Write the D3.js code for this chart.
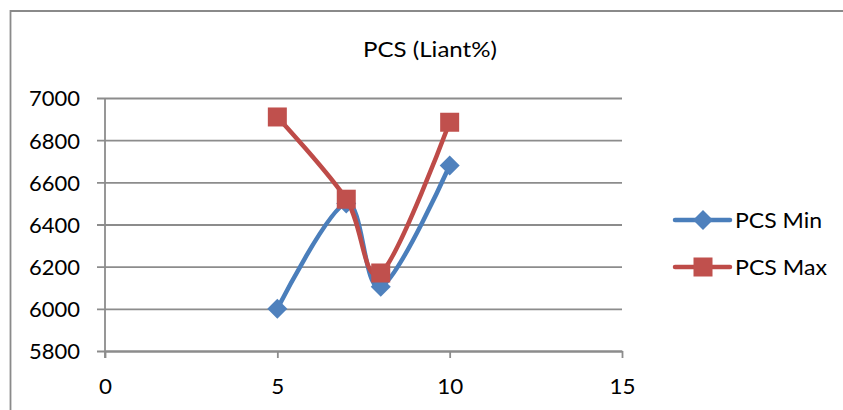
<!DOCTYPE html>
<html>
<head>
<meta charset="utf-8">
<script src="https://cdn.jsdelivr.net/npm/d3@7"></script>
<style>
  html, body { margin: 0; padding: 0; background: #fff; }
  svg { display: block; }
  text { font-family: Lato, "Open Sans", sans-serif; fill: #000; }
</style>
</head>
<body>
<script>
// Measured loads
const xValues = [5, 7, 8, 10];
const pcsMin = [6000, 6500, 6105, 6680];
const pcsMax = [6910, 6520, 6170, 6885];
const seriesNames = ["PCS Min", "PCS Max"];
const xTicks = [0, 5, 10, 15];
const yTicks = [5800, 6000, 6200, 6400, 6600, 6800, 7000];
const titleText = "PCS (Liant%)";

const W = 843, H = 410;
const svg = d3.select("body").append("svg").attr("width", W).attr("height", H);

// chart frame (top and left edges visible)
svg.append("path")
  .attr("d", "M10.5,420 L10.5,11 L850,11")
  .attr("fill", "none").attr("stroke", "#8a8a8a").attr("stroke-width", 1.8);

const x = d3.scaleLinear().domain([0, 15]).range([105, 622]);
const y = d3.scaleLinear().domain([5800, 7000]).range([351, 98]);
const gridColor = "#8c8c8c";
const fontSize = 22;

function fitText(sel, len) {
  sel.attr("textLength", len).attr("lengthAdjust", "spacingAndGlyphs");
}

// title
svg.append("text").attr("x", 430).attr("y", 57).attr("text-anchor", "middle")
  .attr("font-size", fontSize).text(titleText).call(fitText, 134);

// y axis with gridlines
const yAxis = svg.append("g").attr("transform", `translate(${x(0)},0)`)
  .call(d3.axisLeft(y).tickValues(yTicks).tickFormat(d3.format("d"))
    .tickSizeInner(-(x(15) - x(0))).tickSizeOuter(0).tickPadding(25));
yAxis.select(".domain").remove();
yAxis.selectAll(".tick line").attr("x1", -8).attr("stroke", gridColor).attr("stroke-width", 1.8);
yAxis.selectAll(".tick text").attr("font-size", fontSize).attr("font-family", null)
  .attr("dy", "0.36em").call(fitText, 51);
svg.append("line")
  .attr("x1", x(0)).attr("x2", x(0)).attr("y1", y(7000)).attr("y2", y(5800) + 7)
  .attr("stroke", gridColor).attr("stroke-width", 1.8);

// x axis
const xAxis = svg.append("g").attr("transform", `translate(0,${y(5800)})`)
  .call(d3.axisBottom(x).tickValues(xTicks).tickSizeInner(7).tickSizeOuter(0).tickPadding(20));
xAxis.select(".domain").attr("stroke", gridColor).attr("stroke-width", 1.8);
xAxis.selectAll(".tick line").attr("stroke", gridColor).attr("stroke-width", 1.8);
xAxis.selectAll(".tick text").attr("font-size", fontSize).attr("font-family", null)
  .each(function(d) { d3.select(this).call(fitText, String(d).length * 13); });

const series = [
  { name: seriesNames[0], values: pcsMin, line: "#4a7ebb", fill: "#4f81bd", shape: "diamond" },
  { name: seriesNames[1], values: pcsMax, line: "#be4b48", fill: "#c0504d", shape: "square" }
];

const lineGen = d3.line().x(d => x(d[0])).y(d => y(d[1])).curve(d3.curveCardinal.tension(0));

function marker(g, shape, cx, cy, color) {
  if (shape === "diamond") {
    const r = 10;
    g.append("path").attr("d", `M${cx},${cy - r}L${cx + r},${cy}L${cx},${cy + r}L${cx - r},${cy}Z`)
      .attr("fill", color);
  } else {
    const s = 19;
    g.append("rect").attr("x", cx - s / 2).attr("y", cy - s / 2).attr("width", s).attr("height", s)
      .attr("fill", color);
  }
}

series.forEach(s => {
  const pts = xValues.map((xv, i) => [xv, s.values[i]]);
  svg.append("path").attr("d", lineGen(pts)).attr("fill", "none")
    .attr("stroke", s.line).attr("stroke-width", 4.5).attr("stroke-linejoin", "round").attr("stroke-linecap", "round");
  const mg = svg.append("g");
  pts.forEach(p => marker(mg, s.shape, x(p[0]), y(p[1]), s.fill));
});

// legend
const legendY = [220, 267];
series.forEach((s, i) => {
  const g = svg.append("g");
  g.append("line").attr("x1", 675).attr("x2", 730).attr("y1", legendY[i]).attr("y2", legendY[i])
    .attr("stroke", s.line).attr("stroke-width", 4.5).attr("stroke-linecap", "round");
  marker(g, s.shape, 703, legendY[i], s.fill);
  g.append("text").attr("x", 735).attr("y", legendY[i] + 7.5).attr("font-size", fontSize)
    .text(s.name).call(fitText, i === 0 ? 87 : 92);
});
</script>
</body>
</html>
